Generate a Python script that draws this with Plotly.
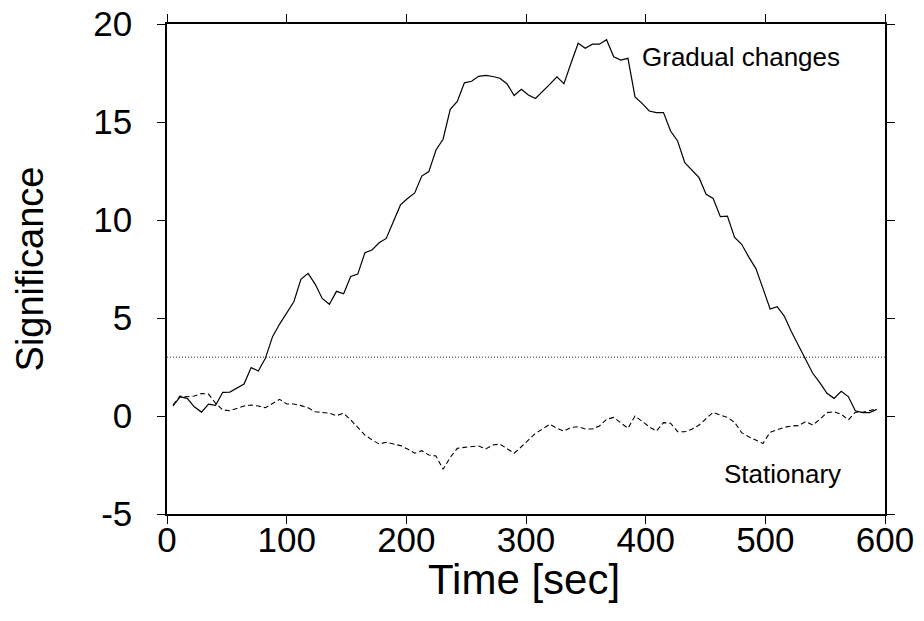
import plotly.graph_objects as go

# Sample times (s): 100 evenly spaced analysis windows
time = [round(5 + 5.94 * i, 1) for i in range(100)]

gradual = [0.51, 0.98, 0.90, 0.47, 0.20, 0.61, 0.55, 1.21, 1.22, 1.43,
           1.63, 2.47, 2.30, 2.94, 4.05, 4.69, 5.24, 5.83, 6.97, 7.28,
           6.73, 6.00, 5.70, 6.36, 6.24, 7.12, 7.24, 8.33, 8.47, 8.84,
           9.06, 9.91, 10.77, 11.10, 11.38, 12.24, 12.47, 13.57, 14.12, 15.65,
           16.05, 17.00, 17.08, 17.33, 17.38, 17.32, 17.23, 16.94, 16.35, 16.67,
           16.38, 16.20, 16.55, 16.92, 17.30, 16.96, 18.00, 19.02, 18.76, 18.97,
           18.97, 19.20, 18.33, 18.16, 18.25, 16.28, 15.95, 15.56, 15.48, 15.48,
           14.54, 14.03, 12.93, 12.57, 12.16, 11.31, 11.10, 10.17, 10.20, 9.11,
           8.76, 8.12, 7.52, 6.51, 5.46, 5.58, 5.10, 4.30, 3.62, 2.94,
           2.18, 1.70, 1.16, 0.90, 1.26, 0.99, 0.27, 0.17, 0.17, 0.34]

stationary = [0.56, 1.02, 0.98, 1.02, 1.15, 1.12, 0.65, 0.31, 0.27, 0.39,
              0.51, 0.56, 0.51, 0.42, 0.65, 0.85, 0.61, 0.61, 0.53, 0.42,
              0.22, 0.19, 0.14, 0.02, 0.14, -0.20, -0.58, -0.97, -1.22, -1.43,
              -1.34, -1.43, -1.51, -1.68, -1.90, -1.77, -1.99, -2.04, -2.72, -2.11,
              -1.65, -1.60, -1.57, -1.53, -1.68, -1.48, -1.43, -1.68, -1.90, -1.57,
              -1.20, -0.88, -0.66, -0.42, -0.63, -0.77, -0.58, -0.55, -0.66, -0.66,
              -0.51, -0.17, -0.07, -0.34, -0.63, 0.00, -0.29, -0.55, -0.77, -0.34,
              -0.37, -0.80, -0.80, -0.68, -0.46, -0.12, 0.19, 0.05, -0.07, -0.32,
              -0.85, -1.06, -1.22, -1.40, -0.83, -0.71, -0.58, -0.51, -0.49, -0.29,
              -0.46, -0.17, 0.17, 0.22, 0.09, -0.20, 0.19, 0.19, 0.27, 0.36]

threshold_x = [0, 600]
threshold_y = [3, 3]

x_ticks = [0, 100, 200, 300, 400, 500, 600]
y_ticks = [-5, 0, 5, 10, 15, 20]
y_tick_text = ["-5", "0", "5", "10", "15", "20"]

x_title = "Time [sec]"
y_title = "Significance"

label_gradual = ("Gradual changes", 480, 18.3)
label_stationary = ("Stationary", 514, -2.95)

FONT = "Liberation Sans, Arial, Helvetica, sans-serif"

fig = go.Figure()
fig.add_trace(go.Scatter(x=threshold_x, y=threshold_y, mode="lines",
                         line=dict(color="#333333", width=1, dash="1px,2px"),
                         showlegend=False, hoverinfo="skip"))
fig.add_trace(go.Scatter(x=time, y=stationary, mode="lines",
                         line=dict(color="black", width=1.1, dash="5px,3px"),
                         showlegend=False))
fig.add_trace(go.Scatter(x=time, y=gradual, mode="lines",
                         line=dict(color="black", width=1.2),
                         showlegend=False))

for text, x, y in (label_gradual, label_stationary):
    fig.add_annotation(x=x, y=y, text=text, showarrow=False,
                       xanchor="center", yanchor="middle",
                       font=dict(family=FONT, size=26, color="black"))

# x-axis title placed as a paper annotation
fig.add_annotation(x=0.497, y=-0.134, xref="paper", yref="paper",
                   text=x_title, showarrow=False,
                   xanchor="center", yanchor="middle",
                   font=dict(family=FONT, size=42, color="black"))

axis_common = dict(showline=True, linecolor="black", linewidth=1.5, mirror="ticks",
                   ticks="outside", ticklen=8, tickwidth=1.2, tickcolor="black",
                   showgrid=False, zeroline=False, automargin=False,
                   tickfont=dict(family=FONT, size=35, color="black"))

fig.update_xaxes(range=[0, 600], tickvals=x_ticks, ticklabelstandoff=-14,
                 **axis_common)
fig.update_yaxes(range=[-5, 20], tickvals=y_ticks, ticktext=y_tick_text,
                 ticklabelstandoff=18,
                 title=dict(text=y_title, standoff=38,
                            font=dict(family=FONT, size=38, color="black")),
                 **axis_common)

fig.update_layout(width=924, height=621,
                  margin=dict(l=167, r=39, t=24, b=107),
                  plot_bgcolor="white", paper_bgcolor="white",
                  font=dict(family=FONT, color="black"))

fig.write_html("out.html")
